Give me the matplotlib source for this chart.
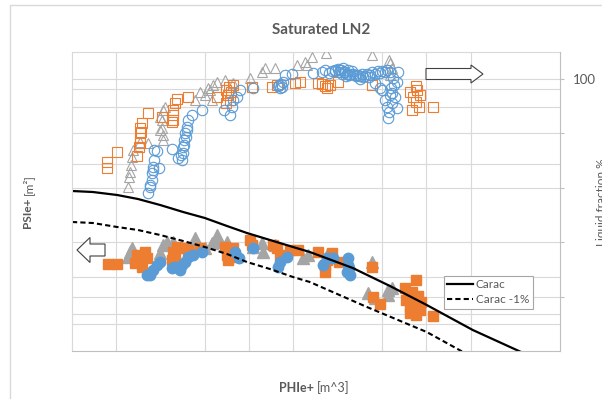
import matplotlib
matplotlib.use("Agg")
import matplotlib.pyplot as plt
from matplotlib.patches import FancyArrow, Rectangle

plt.rcParams['font.family'] = ['Lato', 'DejaVu Sans']

ORANGE = '#ED7D31'
GRAY = '#A5A5A5'
BLUE = '#5B9BD5'
TXT = '#595959'
GRID = '#D9D9D9'

# liquid fraction % (secondary axis), open markers
lf_sq_x = [0.79, 0.79, 1.02, 1.47, 1.51, 1.53, 1.56, 1.58, 1.72, 1.53, 2.03, 2.28, 2.28, 2.33,
           2.37, 2.62, 2.28, 2.26, 1.53, 3.48, 3.52, 3.57, 3.48, 3.59, 3.54, 3.27, 3.63, 4.06,
           4.51, 4.63, 5.03, 5.15, 5.55, 5.64, 5.71, 5.76, 5.83, 6.00, 6.77, 7.77, 7.63, 7.70,
           7.77, 7.83, 7.68, 7.86, 7.79, 8.15]
lf_sq_y = [84.7, 83.6, 86.6, 85.8, 87.5, 89.2, 90.3, 91.9, 93.8, 88.2, 93.0, 92.5, 94.3, 95.6,
           96.3, 96.7, 93.4, 92.1, 91.0, 98.0, 97.1, 96.1, 95.6, 97.6, 98.5, 96.7, 98.9, 98.5,
           98.5, 98.9, 99.3, 99.4, 99.3, 99.1, 98.7, 98.3, 98.9, 99.4, 98.9, 98.7, 97.6, 96.7,
           95.8, 94.9, 94.3, 97.1, 98.0, 94.9]

lf_tri_x = [1.26, 1.29, 1.33, 1.35, 1.38, 1.53, 1.72, 1.99, 2.03, 2.05, 2.10, 2.05, 2.05, 2.78,
            3.12, 3.16, 3.18, 3.27, 3.45, 3.63, 4.02, 4.29, 4.36, 4.58, 5.08, 5.26, 5.30, 5.42,
            5.73, 6.77, 7.16, 7.18, 7.22, 7.18, 1.31, 1.99, 2.03, 2.89, 3.00, 3.07]
lf_tri_y = [80.1, 82.0, 84.2, 85.7, 86.9, 88.4, 88.2, 93.0, 91.0, 94.3, 94.9, 89.7, 88.8, 96.1,
            98.0, 96.1, 98.9, 99.4, 99.8, 99.3, 100.2, 101.3, 102.0, 102.0, 102.6, 103.1, 102.6,
            104.0, 104.8, 104.4, 103.5, 102.9, 102.0, 100.7, 82.9, 90.6, 92.5, 97.6, 97.1, 98.3]

lf_circ_x = [1.72, 1.76, 1.81, 1.81, 1.83, 1.96, 1.85, 2.26, 2.48, 2.51, 2.51, 2.53, 2.55, 2.60,
             2.62, 2.71, 2.93, 3.43, 3.57, 3.61, 3.63, 3.72, 3.79, 4.09, 4.70, 4.81, 4.97, 5.44,
             5.64, 5.71, 5.94, 6.23, 6.50, 6.84, 6.95, 7.00, 7.07, 7.11, 7.16, 7.13, 7.34, 7.29,
             7.36, 7.34, 7.22, 1.76, 1.83, 1.85, 1.92, 2.39, 2.57, 2.53, 2.46, 2.60,
             6.05, 6.16, 6.28, 6.39, 6.50, 6.61, 6.73, 6.84, 6.95, 7.07, 7.18, 6.12, 6.32,
             4.65, 4.72, 4.76, 7.25, 7.27, 7.20, 7.18, 7.22,
             5.95, 6.00, 6.08, 6.14, 6.20, 6.25, 6.35, 6.45, 6.55, 6.66, 6.78, 6.90, 7.01,
             7.12, 6.02, 6.10, 6.18, 6.42, 6.58, 6.70, 5.88, 5.80, 4.67, 4.74]
lf_circ_y = [79.0, 80.1, 81.4, 82.7, 83.8, 83.6, 86.9, 87.1, 85.1, 86.4, 87.5, 88.8, 90.1, 91.2,
             92.5, 93.4, 94.3, 94.3, 93.4, 94.9, 96.1, 96.7, 98.0, 98.3, 98.3, 100.7, 100.9, 101.1,
             101.3, 101.7, 101.7, 101.7, 100.0, 99.3, 98.3, 98.0, 96.1, 94.9, 93.9, 92.8, 94.7, 96.7,
             101.3, 99.4, 97.4, 80.5, 83.3, 85.1, 86.8, 85.5, 89.3, 87.9, 86.0, 90.6,
             101.7, 101.3, 100.9, 100.7, 100.6, 100.6, 100.7, 100.9, 101.1, 101.3, 101.3, 102.0, 101.5,
             98.7, 99.1, 99.4, 100.2, 98.9, 98.3, 97.1, 95.6,
             101.5, 101.9, 101.6, 101.2, 101.0, 100.8, 100.9, 100.8, 100.9, 101.0, 101.2, 101.4, 101.5,
             101.6, 101.2, 100.9, 100.6, 100.5, 100.3, 100.4, 101.4, 101.1, 98.9, 98.5]

# PSIe+ (primary axis), filled markers
ps_sq_x = [0.81, 1.02, 1.47, 1.53, 1.58, 1.42, 1.69, 1.65, 2.28, 2.33, 2.26, 2.37, 2.51, 2.62,
           2.89, 3.45, 3.50, 3.52, 3.63, 3.68, 4.02, 4.06, 4.54, 4.63, 4.70, 4.92, 5.10, 5.55,
           5.71, 5.71, 5.87, 5.76, 6.03, 6.77, 6.79, 6.95, 7.52, 7.77, 7.70, 7.63,
           7.58, 7.67, 7.81, 7.74, 7.86, 7.63, 7.77, 7.54, 7.88, 8.15]
ps_sq_y = [8.7, 8.7, 9.6, 8.9, 8.4, 8.8, 9.3, 9.9, 9.9, 9.4, 9.1, 10.4, 10.3, 10.1,
           10.3, 10.4, 9.6, 9.1, 10.3, 9.4, 11.1, 10.6, 10.6, 10.3, 9.6, 10.1, 10.1, 9.9,
           8.6, 7.9, 9.8, 9.1, 8.9, 8.4, 5.4, 4.7, 6.3, 7.1, 5.1, 4.4,
           5.6, 5.9, 5.5, 4.8, 4.1, 3.8, 3.6, 5.1, 4.9, 3.5]

ps_tri_x = [1.26, 1.35, 1.99, 2.05, 2.14, 2.28, 2.78, 2.82, 3.16, 3.27, 3.27, 3.50, 4.09, 4.29,
            4.31, 4.58, 5.21, 5.33, 5.76, 6.77, 6.68, 6.84, 7.13, 7.13, 7.22, 1.31, 3.00]
ps_tri_y = [9.4, 10.3, 9.8, 10.6, 10.9, 10.9, 11.3, 10.8, 10.8, 11.6, 10.9, 10.9, 10.4, 10.8,
            9.9, 10.6, 9.3, 9.6, 9.6, 8.9, 5.8, 5.3, 6.1, 5.6, 6.3, 9.9, 10.3]

ps_circ_x = [1.76, 1.83, 1.92, 1.99, 1.69, 2.26, 2.33, 2.44, 2.48, 2.55, 2.62, 2.73, 2.93, 3.77,
             3.68, 4.09, 4.65, 4.70, 4.85, 5.67, 5.76, 5.89, 6.23, 6.21, 6.28, 6.23, 6.25]
ps_circ_y = [7.6, 8.1, 8.6, 8.9, 7.6, 8.3, 8.4, 8.1, 8.6, 8.9, 9.4, 9.6, 9.9, 9.3,
             9.9, 10.3, 8.4, 8.9, 9.4, 8.6, 9.3, 9.3, 8.6, 7.9, 7.6, 9.3, 8.3]

# characteristic curves
carac_x = [0, 0.47, 1.02, 1.49, 1.99, 2.51, 3.00, 3.50, 3.95, 4.47, 4.99, 5.37, 6.34, 7.18,
           8.01, 9.05, 10.14]
carac_y = [16.0, 15.9, 15.6, 15.2, 14.6, 13.9, 13.3, 12.5, 11.8, 11.1, 10.4, 9.9, 8.3, 6.5,
           4.6, 2.1, -0.1]
carac1_x = [0, 0.47, 1.02, 1.49, 1.99, 2.51, 3.00, 3.50, 3.95, 4.47, 4.99, 5.37, 6.66, 8.01, 8.83]
carac1_y = [12.9, 12.8, 12.4, 12.1, 11.6, 11.0, 10.4, 9.7, 8.9, 8.2, 7.4, 6.9, 4.4, 1.9, -0.1]

psi_lim = (0, 29.9)
lf_lim = (50, 104.96)
psi_grid = [2.7, 3.7, 7.4, 18.7, 24.4, 26.2]
lf_ticks = [60, 70, 80, 90, 100]

fig = plt.figure(figsize=(6.02, 3.99), dpi=100)
ax = fig.add_axes([72 / 602, 48 / 399, 488 / 602, 299 / 399])
ax2 = ax.twinx()

ax.set_xlim(0, 11.02)
ax.set_ylim(*psi_lim)
ax2.set_ylim(*lf_lim)

# gridlines for both y scales are drawn on the primary axes
lf_as_psi = [psi_lim[0] + (v - lf_lim[0]) / (lf_lim[1] - lf_lim[0]) * (psi_lim[1] - psi_lim[0])
             for v in lf_ticks]
ax.set_xticks([1, 3, 4, 5, 7, 8, 9])
ax.set_yticks(sorted(psi_grid + lf_as_psi))
ax.tick_params(length=0, labelbottom=False, labelleft=False)
ax.grid(True, color=GRID, lw=0.8)
ax.set_axisbelow(True)
for s in ['left', 'top']:
    ax.spines[s].set_color(GRID)
ax.spines['bottom'].set_color('#BFBFBF')
ax.spines['right'].set_visible(False)

ax2.set_yticks(lf_ticks)
ax2.set_yticklabels(['', '', '', '', '100'])
ax2.tick_params(axis='y', length=3, width=0.8, color='#BFBFBF', labelcolor=TXT,
                labelsize=9.5, pad=6)
for s in ['left', 'top', 'bottom']:
    ax2.spines[s].set_visible(False)
ax2.spines['right'].set_color('#BFBFBF')

# filled: PSIe+
ax.plot(ps_tri_x, ps_tri_y, '^', color=GRAY, ms=8, ls='none')
ax.plot(ps_sq_x, ps_sq_y, 's', color=ORANGE, ms=7.5, ls='none')
ax.plot(ps_circ_x, ps_circ_y, 'o', color=BLUE, ms=7.5, ls='none')

ax.plot(carac_x, carac_y, '-', color='black', lw=1.6, label='Carac')
ax.plot(carac1_x, carac1_y, '--', color='black', lw=1.5, dashes=(2.5, 1.5), label='Carac -1%')

# open: liquid fraction
ax2.plot(lf_tri_x, lf_tri_y, '^', mfc='none', mec=GRAY, mew=0.8, ms=7.5, ls='none')
ax2.plot(lf_sq_x, lf_sq_y, 's', mfc='none', mec=ORANGE, mew=0.8, ms=7, ls='none')
ax2.plot(lf_circ_x, lf_circ_y, 'o', mfc='none', mec=BLUE, mew=0.8, ms=7.5, ls='none')

leg = ax.legend(loc='upper left', bbox_to_anchor=(0.762, 0.251), fontsize=8.5,
                frameon=True, fancybox=False, framealpha=1, borderaxespad=0,
                handlelength=2.2, handletextpad=0.2, labelcolor=TXT, borderpad=0.3,
                labelspacing=0.3)
leg.get_frame().set_edgecolor('#A6A6A6')
leg.get_frame().set_linewidth(0.8)
leg.set_zorder(5)

# direction arrows
arrow_kw = dict(length_includes_head=True, fc='white', ec='#404040', lw=0.8,
                transform=fig.dpi_scale_trans)
fig.patches.append(FancyArrow(1.05, 1.49, -0.28, 0, width=0.12, head_width=0.25,
                              head_length=0.13, **arrow_kw))
fig.patches.append(FancyArrow(4.26, 3.25, 0.57, 0, width=0.11, head_width=0.18,
                              head_length=0.12, **arrow_kw))

# outer chart border
fig.patches.append(Rectangle((10 / 602, -0.1), 1.2, 1.1 - 5 / 399, transform=fig.transFigure,
                             fill=False, ec=GRID, lw=1))

fig.text(321 / 602, 1 - 30 / 399, 'Saturated LN2', ha='center', va='center', fontsize=11,
         fontweight='bold', color=TXT)

fig.canvas.draw()
renderer = fig.canvas.get_renderer()
t1 = fig.text(28 / 602, 171 / 399, 'PSIe+', rotation=90, ha='center', va='bottom',
              fontsize=8.5, fontweight='bold', color=TXT)
bb = t1.get_window_extent(renderer)
fig.text(28 / 602, (bb.y1 + 3) / 399, '[m²]', rotation=90, ha='center', va='bottom',
         fontsize=8.5, color=TXT)

t2 = fig.text(279 / 602, 1 - 388 / 399, 'PHIe+', ha='left', va='center',
              fontsize=9, fontweight='bold', color=TXT)
bb = t2.get_window_extent(renderer)
fig.text((bb.x1 + 3) / 602, 1 - 388 / 399, '[m^3]', ha='left', va='center',
         fontsize=9, color=TXT)

fig.text(596 / 602, 1 - 202 / 399, 'Liquid fraction %', rotation=90, ha='left', va='center',
         fontsize=8.5, color=TXT)

fig.savefig('out.png', dpi=100)
